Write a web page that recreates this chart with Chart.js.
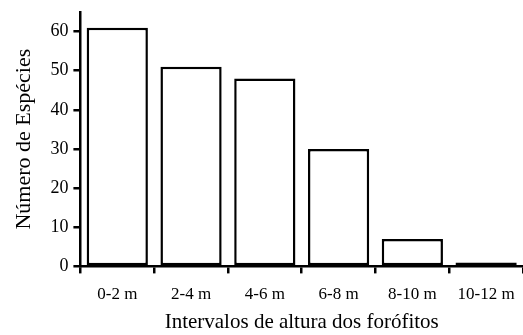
<!DOCTYPE html>
<html>
<head>
<meta charset="utf-8">
<script src="https://cdn.jsdelivr.net/npm/chart.js@4/dist/chart.umd.min.js"></script>
<style>
  html, body { margin: 0; padding: 0; background: #fff; }
  #wrap { width: 523px; height: 335px; }
</style>
</head>
<body>
<div id="wrap"><canvas id="speciesChart" width="523" height="335"></canvas></div>
<script>
// Height classes of the phorophytes and number of species in each
const heightClasses = ['0-2 m', '2-4 m', '4-6 m', '6-8 m', '8-10 m', '10-12 m'];
const speciesCount = [61, 51, 48, 30, 7, 1];
const yTickValues = [0, 10, 20, 30, 40, 50, 60];

const serif = '"Liberation Serif", "Times New Roman", serif';

const ctxSpecies = document.getElementById('speciesChart').getContext('2d');
const speciesChart = new Chart(ctxSpecies, {
    type: 'bar',
    data: {
        labels: heightClasses,
        datasets: [{
            label: 'Número de Espécies',
            data: speciesCount,
            backgroundColor: '#ffffff',
            borderColor: '#000000',
            borderWidth: 2.5,
            borderSkipped: false,
            categoryPercentage: 1,
            barPercentage: 0.83
        }]
    },
    options: {
        responsive: false,
        animation: false,
        layout: { padding: { top: 12, right: -4, bottom: 0, left: 11 } },
        plugins: {
            legend: { display: false },
            tooltip: { enabled: false }
        },
        scales: {
            x: {
                grid: {
                    offset: true,
                    drawOnChartArea: false,
                    drawTicks: true,
                    tickLength: 7,
                    color: '#000',
                    lineWidth: 2.5
                },
                border: { display: true, color: '#000', width: 2.5 },
                afterFit: function(scale) {
                    // the last category runs off the right edge in the original
                    scale.paddingLeft = 0;
                    scale.paddingRight = 0;
                },
                ticks: {
                    color: '#000',
                    font: { family: serif, size: 17 },
                    maxRotation: 0,
                    autoSkip: false,
                    padding: 11
                },
                title: {
                    display: true,
                    text: 'Intervalos de altura dos forófitos',
                    color: '#000',
                    font: { family: serif, size: 21 },
                    padding: { top: -6, bottom: 0 }
                }
            },
            y: {
                min: 0,
                max: 65,
                grid: {
                    drawOnChartArea: false,
                    drawTicks: true,
                    tickLength: 7,
                    color: '#000',
                    lineWidth: 2.5
                },
                border: { display: true, color: '#000', width: 2.5 },
                afterBuildTicks: function(scale) {
                    // only the round tens get a tick, the axis itself runs a bit higher
                    scale.ticks = yTickValues.map(v => ({ value: v }));
                },
                afterFit: function(scale) {
                    // no label sits at the top of the axis, so drop the extra room
                    scale.paddingTop = 0;
                },
                ticks: {
                    color: '#000',
                    font: { family: serif, size: 18 },
                    padding: 5
                },
                title: {
                    display: true,
                    text: 'Número de Espécies',
                    color: '#000',
                    font: { family: serif, size: 22 },
                    padding: { top: 0, bottom: 8 }
                }
            }
        }
    }
});
</script>
</body>
</html>
